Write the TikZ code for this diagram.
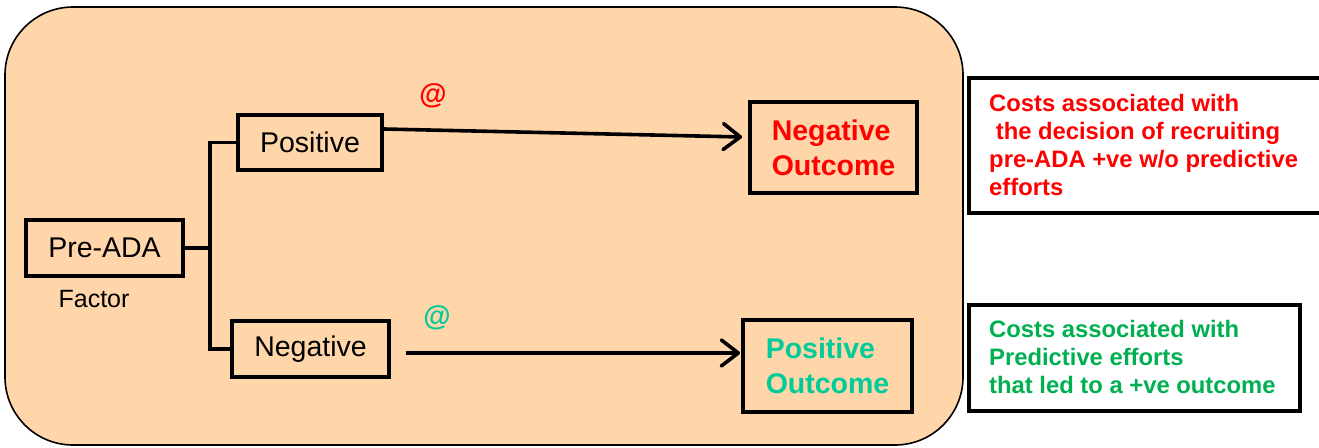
\documentclass[tikz,border=0pt]{standalone}
\usepackage{fontspec}
\setmainfont{Liberation Sans}
\usetikzlibrary{arrows.meta}
\definecolor{peach}{HTML}{FFD5AA}
\definecolor{tealc}{HTML}{00CC99}
\definecolor{greenc}{HTML}{00B050}
\begin{document}
\begin{tikzpicture}[x=1pt,y=-1pt,
  box/.style={draw=black,line width=3.8pt,inner sep=0pt,font=\fontsize{28.5}{35}\selectfont},
  outbox/.style={draw=black,line width=3.8pt,inner sep=0pt,align=left,font=\fontsize{28.5}{35}\selectfont\bfseries},
  notebox/.style={draw=black,line width=3.8pt},
  notetext/.style={inner sep=0pt,anchor=north west,align=left,font=\fontsize{23.8}{28}\selectfont\bfseries},
  conn/.style={line width=3.8pt},
  arr/.style={line width=3.6pt,-{Straight Barb[length=17pt,width=26pt,line width=3.6pt,round]}},
  atsign/.style={inner sep=0pt,font=\fontsize{28}{28}\selectfont\bfseries}
]
\useasboundingbox (0,0) rectangle (1319,447);
\fill[white] (0,0) rectangle (1319,447);
% big panel
\draw[fill=peach,line width=1.6pt,rounded corners=68pt] (5,7) rectangle (963,445);
% nodes
\node[box,minimum width=157pt,minimum height=56pt] (pre) at (104.5,248) {Pre-ADA};
\node[inner sep=0pt,font=\fontsize{25}{25}\selectfont] (factor) at (94,299) {Factor};
\node[box,minimum width=144pt,minimum height=55pt] (pos) at (310,142.5) {Positive};
\node[box,minimum width=157pt,minimum height=56pt] (neg) at (310.5,349) {Negative};
\node[outbox,text=red,minimum width=167pt,minimum height=91pt] (negout) at (833.5,147.5) {Negative\\Outcome};
\node[outbox,text=tealc,minimum width=169pt,minimum height=92pt] (posout) at (827.5,366) {Positive\\Outcome};
\node[atsign,text=red] (at1) at (433,96) {@};
\node[atsign,text=tealc] (at2) at (437,318) {@};
% tree connectors
\coordinate (jmid) at (210,248);
\coordinate (jtop) at (210,142.5);
\coordinate (jbot) at (210,349);
\draw[conn] (pre.east) -- (jmid);
\draw[conn] (pos.west) -- (jtop) -- (jbot) -- (neg.west);
% arrows
\draw[arr] ([yshift=13.5pt]pos.east) -- ([xshift=-6pt,yshift=10.5pt]negout.west);
\draw[arr] ([xshift=15pt,yshift=-4pt]neg.east) -- ([xshift=-1pt,yshift=13pt]posout.west);
% note boxes
\draw[notebox] (969,78) rectangle (1330,213);
\node[notetext,text=red] (note1) at (989,94) {Costs associated with\\\ the decision of recruiting\\pre-ADA +ve w/o predictive\\efforts};
\draw[notebox] (969,305) rectangle (1300,411);
\node[notetext,text=greenc] (note2) at (989,320.5) {Costs associated with\\Predictive efforts\\that led to a +ve outcome};
\end{tikzpicture}
\end{document}
